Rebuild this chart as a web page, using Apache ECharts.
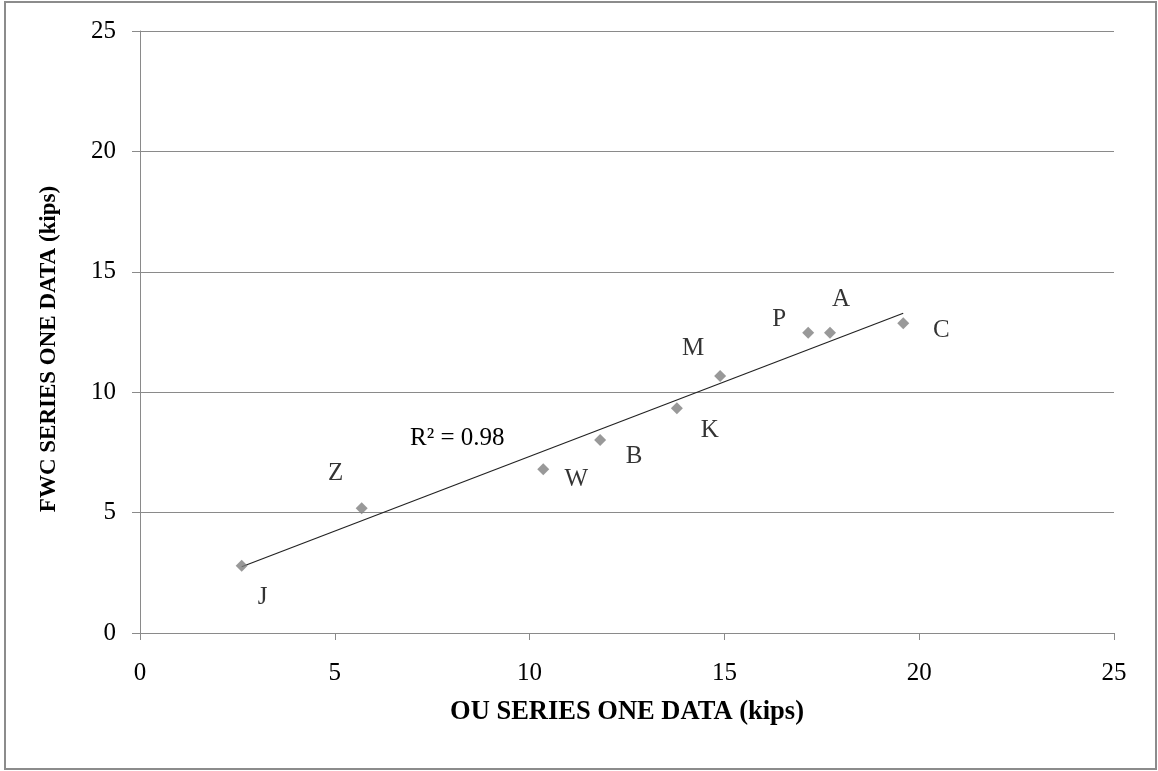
<!DOCTYPE html>
<html>
<head>
<meta charset="utf-8">
<script src="https://cdn.jsdelivr.net/npm/echarts@6/dist/echarts.min.js"></script>
<style>
html,body{margin:0;padding:0;background:#fff;}
#c{width:1158px;height:771px;}
</style>
</head>
<body>
<div id="c"></div>
<script>
// Data
var pointNames = ['J', 'Z', 'W', 'B', 'K', 'M', 'P', 'A', 'C'];
var ouValues   = [2.61, 5.69, 10.35, 11.81, 13.78, 14.89, 17.15, 17.71, 19.59];
var fwcValues  = [2.79, 5.18, 6.80, 8.01, 9.33, 10.67, 12.47, 12.47, 12.86];
var trendX = [2.61, 19.59];
var trendY = [2.75, 13.28];
var rSquaredText = 'R\u00B2 = 0.98';
var xTicks = [0, 5, 10, 15, 20, 25];
var yTicks = [0, 5, 10, 15, 20, 25];
var xTitle = 'OU SERIES ONE DATA (kips)';
var yTitle = 'FWC SERIES ONE DATA (kips)';

// label offsets (style only)
var labelOffsets = {
  J: [21, 32], Z: [-26, -35], W: [33, 10], B: [34, 16], K: [33, 22],
  M: [-27, -28], P: [-29, -13], A: [11, -33], C: [38, 7]
};

var serif = '"Liberation Serif", "Times New Roman", serif';
var chart = echarts.init(document.getElementById('c'), null, {renderer: 'canvas'});

var pts = pointNames.map(function (n, i) {
  return {
    name: n,
    value: [ouValues[i], fwcValues[i]],
    label: {show: true, formatter: n, position: 'inside', offset: labelOffsets[n]}
  };
});

var option = {
  animation: false,
  backgroundColor: '#fff',
  grid: {left: 140, top: 31, right: 44, bottom: 138, containLabel: false},
  xAxis: {
    type: 'value', min: xTicks[0], max: xTicks[xTicks.length - 1], interval: 5,
    axisLine: {show: true, onZero: false, lineStyle: {color: '#8a8a8a', width: 1}},
    axisTick: {show: true, length: 7, lineStyle: {color: '#8a8a8a'}},
    axisLabel: {margin: 28, color: '#000', fontFamily: serif, fontSize: 25},
    splitLine: {show: false}
  },
  yAxis: {
    type: 'value', min: yTicks[0], max: yTicks[yTicks.length - 1], interval: 5,
    axisLine: {show: true, lineStyle: {color: '#8a8a8a', width: 1}},
    axisTick: {show: true, length: 8, lineStyle: {color: '#8a8a8a'}},
    axisLabel: {margin: 24, color: '#000', fontFamily: serif, fontSize: 25},
    splitLine: {show: true, lineStyle: {color: '#8a8a8a', width: 1}}
  },
  series: [
    {
      type: 'line',
      data: trendX.map(function (x, i) { return [x, trendY[i]]; }),
      symbol: 'none',
      lineStyle: {color: '#222', width: 1.2},
      silent: true,
      z: 2
    },
    {
      type: 'scatter',
      data: pts,
      symbol: 'diamond',
      symbolSize: 12,
      itemStyle: {color: '#808080'},
      label: {color: '#000', fontFamily: serif, fontSize: 25},
      z: 3
    }
  ]
};
chart.setOption(option);

var rPos = chart.convertToPixel({gridIndex: 0}, [6.93, 8.1]);
chart.setOption({
  graphic: [
    {
      type: 'rect', shape: {x: 5, y: 2, width: 1151, height: 767},
      style: {fill: 'none', stroke: '#8c8c8c', lineWidth: 2}, silent: true
    },
    {
      type: 'text', x: rPos[0], y: rPos[1],
      style: {text: rSquaredText, font: '25px ' + serif, fill: '#000',
              textAlign: 'left', textVerticalAlign: 'middle'}
    },
    {
      type: 'text', x: 627, y: 712,
      style: {text: xTitle, font: 'bold 26.5px ' + serif, fill: '#000',
              textAlign: 'center', textVerticalAlign: 'middle'}
    },
    {
      type: 'text', x: 49, y: 349, rotation: Math.PI / 2,
      style: {text: yTitle, font: 'bold 23px ' + serif, fill: '#000',
              textAlign: 'center', textVerticalAlign: 'middle'}
    }
  ]
});
</script>
</body>
</html>
